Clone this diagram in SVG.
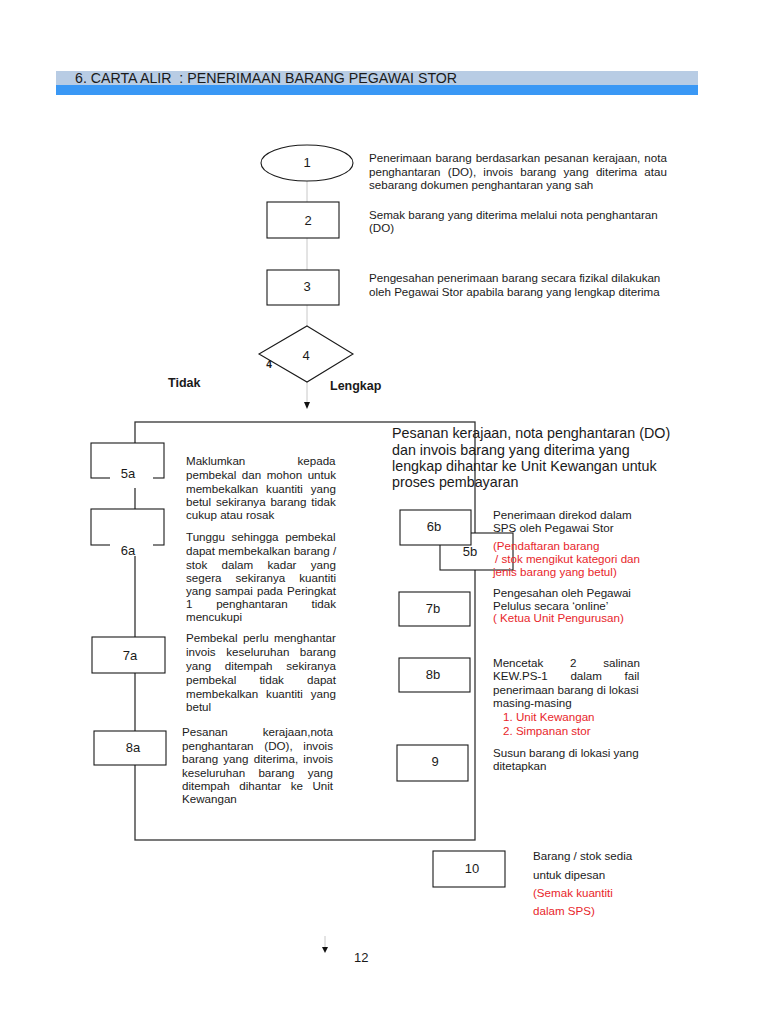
<svg xmlns="http://www.w3.org/2000/svg" width="768" height="1024" viewBox="0 0 768 1024">
<style>
text{font-family:"Liberation Sans",Arial,sans-serif;fill:#1a1a1a}
.t{font-size:11.6px}
.r{fill:#e8262b}
.lbl{font-size:13px;text-anchor:middle}
.b{font-weight:bold;font-size:12.5px}
.big{font-size:14.3px}
.box{fill:#fff;stroke:#1a1a1a;stroke-width:1.1}
.con{stroke:#c8c8c8;stroke-width:1;fill:none}
.frame{fill:none;stroke:#333;stroke-width:1.3}
</style>
<rect width="768" height="1024" fill="#fff"/>
<g id="header">
<rect x="56" y="71" width="642" height="14" fill="#b8cce4"/>
<rect x="56" y="85" width="642" height="10" fill="#3a98f5"/>
<text x="75" y="83" font-size="14.2">6. CARTA ALIR&#160; : PENERIMAAN BARANG PEGAWAI STOR</text>
</g>
<g id="connectors">
<line class="con" x1="307" y1="181" x2="307" y2="202"/>
<line class="con" x1="307" y1="238" x2="307" y2="270"/>
<line class="con" x1="307" y1="305" x2="307" y2="326"/>
<line class="con" x1="307" y1="382" x2="307" y2="403"/>
<polygon points="304,402 310,402 307,409" fill="#111"/>
<rect class="frame" x="135" y="422" width="340" height="418"/>
<line class="con" x1="325" y1="936" x2="325" y2="947"/>
<polygon points="322,947 328,947 325,953" fill="#111"/>
</g>
<g id="n1">
<ellipse cx="307" cy="163" rx="46" ry="18" class="box"/>
<text class="lbl" x="307" y="167">1</text>
<text class="t" x="369" y="162" style="word-spacing:0.8px">Penerimaan barang berdasarkan pesanan kerajaan, nota</text>
<text class="t" x="369" y="176" style="word-spacing:4px">penghantaran (DO), invois barang yang diterima atau</text>
<text class="t" x="369" y="189">sebarang dokumen penghantaran yang sah</text>
</g>
<g id="n2">
<rect class="box" x="267" y="202" width="72" height="36"/>
<text class="lbl" x="308" y="225">2</text>
<text class="t" x="369" y="219">Semak barang yang diterima melalui nota penghantaran</text>
<text class="t" x="369" y="232">(DO)</text>
</g>
<g id="n3">
<rect class="box" x="267" y="270" width="72" height="35"/>
<text class="lbl" x="307" y="291">3</text>
<text class="t" x="369" y="282">Pengesahan penerimaan barang secara fizikal dilakukan</text>
<text class="t" x="369" y="296">oleh Pegawai Stor apabila barang yang lengkap diterima</text>
</g>
<g id="n4">
<polygon class="box" points="307,326 353,354 307,382 259,354"/>
<text class="lbl" x="306" y="360">4</text>
<text x="269" y="368" font-size="10" font-weight="bold" text-anchor="middle">4</text>
<text class="b" x="168" y="387">Tidak</text>
<text class="b" x="330" y="390">Lengkap</text>
</g>
<g id="n5a">
<rect class="box" x="91" y="443" width="73" height="35"/>
<rect x="110" y="462" width="43" height="26" fill="#fff"/>
<text class="lbl" x="128" y="478">5a</text>
<text class="t" x="186" y="465" style="word-spacing:49px">Maklumkan kepada</text>
<text class="t" x="186" y="479" style="word-spacing:2.3px">pembekal dan mohon untuk</text>
<text class="t" x="186" y="493" style="word-spacing:4.7px">membekalkan kuantiti yang</text>
<text class="t" x="186" y="506" style="word-spacing:1.6px">betul sekiranya barang tidak</text>
<text class="t" x="186" y="519">cukup atau rosak</text>
</g>
<g id="n6a">
<rect class="box" x="91" y="509" width="73" height="36"/>
<rect x="110" y="530" width="43" height="26" fill="#fff"/>
<text class="lbl" x="128" y="555">6a</text>
<text class="t" x="186" y="541" style="word-spacing:3.4px">Tunggu sehingga pembekal</text>
<text class="t" x="186" y="555">dapat membekalkan barang /</text>
<text class="t" x="186" y="569" style="word-spacing:11.1px">stok dalam kadar yang</text>
<text class="t" x="186" y="582" style="word-spacing:10.9px">segera sekiranya kuantiti</text>
<text class="t" x="186" y="595" style="word-spacing:1px">yang sampai pada Peringkat</text>
<text class="t" x="186" y="608" style="word-spacing:20.5px">1 penghantaran tidak</text>
<text class="t" x="186" y="621">mencukupi</text>
</g>
<g id="n7a">
<rect class="box" x="92" y="637" width="73" height="36"/>
<text class="lbl" x="130" y="660">7a</text>
<text class="t" x="186" y="642" style="word-spacing:2.1px">Pembekal perlu menghantar</text>
<text class="t" x="186" y="656" style="word-spacing:7.3px">invois keseluruhan barang</text>
<text class="t" x="186" y="670" style="word-spacing:10.5px">yang ditempah sekiranya</text>
<text class="t" x="186" y="684" style="word-spacing:19.9px">pembekal tidak dapat</text>
<text class="t" x="186" y="698" style="word-spacing:4.7px">membekalkan kuantiti yang</text>
<text class="t" x="186" y="711">betul</text>
</g>
<g id="n8a">
<rect class="box" x="94" y="731" width="72" height="34"/>
<text class="lbl" x="133" y="752">8a</text>
<text class="t" x="182" y="736" style="word-spacing:31.7px">Pesanan kerajaan,nota</text>
<text class="t" x="182" y="750" style="word-spacing:7.5px">penghantaran (DO), invois</text>
<text class="t" x="182" y="763" style="word-spacing:2px">barang yang diterima, invois</text>
<text class="t" x="182" y="777" style="word-spacing:10px">keseluruhan barang yang</text>
<text class="t" x="182" y="790" style="word-spacing:6.3px">ditempah dihantar ke Unit</text>
<text class="t" x="182" y="803">Kewangan</text>
</g>
<g id="lengkap-note">
<text class="big" x="392" y="438">Pesanan kerajaan, nota penghantaran (DO)</text>
<text class="big" x="392" y="455">dan invois barang yang diterima yang</text>
<text class="big" x="392" y="471">lengkap dihantar ke Unit Kewangan untuk</text>
<text class="big" x="392" y="487">proses pembayaran</text>
</g>
<g id="n5b">
<rect class="box" x="440" y="533" width="73" height="37"/>
<text class="lbl" x="470" y="556">5b</text>
</g>
<g id="n6b">
<rect class="box" x="400" y="510" width="71" height="35"/>
<text class="lbl" x="434" y="531">6b</text>
<text class="t" x="493" y="519">Penerimaan direkod dalam</text>
<text class="t" x="493" y="532">SPS oleh Pegawai Stor</text>
<text class="t r" x="493" y="550">(Pendaftaran barang</text>
<text class="t r" x="495" y="563">/ stok mengikut kategori dan</text>
<text class="t r" x="493" y="576">jenis barang yang betul)</text>
</g>
<g id="n7b">
<rect class="box" x="399" y="592" width="71" height="34"/>
<text class="lbl" x="433" y="613">7b</text>
<text class="t" x="493" y="597">Pengesahan oleh Pegawai</text>
<text class="t" x="493" y="610">Pelulus secara ‘online’</text>
<text class="t r" x="493" y="622">( Ketua Unit Pengurusan)</text>
</g>
<g id="n8b">
<rect class="box" x="399" y="658" width="71" height="34"/>
<text class="lbl" x="433" y="679">8b</text>
<text class="t" x="493" y="667" style="word-spacing:23.5px">Mencetak 2 salinan</text>
<text class="t" x="493" y="680" style="word-spacing:19.4px">KEW.PS-1 dalam fail</text>
<text class="t" x="493" y="694">penerimaan barang di lokasi</text>
<text class="t" x="493" y="707">masing-masing</text>
<text class="t r" x="503" y="721">1. Unit Kewangan</text>
<text class="t r" x="503" y="735">2. Simpanan stor</text>
</g>
<g id="n9">
<rect class="box" x="397" y="745" width="71" height="36"/>
<text class="lbl" x="435" y="766">9</text>
<text class="t" x="493" y="757">Susun barang di lokasi yang</text>
<text class="t" x="493" y="770">ditetapkan</text>
</g>
<g id="n10">
<rect class="box" x="433" y="851" width="72" height="36"/>
<text class="lbl" x="472" y="873">10</text>
<text class="t" x="533" y="860">Barang / stok sedia</text>
<text class="t" x="533" y="879">untuk dipesan</text>
<text class="t r" x="533" y="897">(Semak kuantiti</text>
<text class="t r" x="533" y="915">dalam SPS)</text>
</g>
<g id="page">
<text x="354" y="962" font-size="13">12</text>
</g>
</svg>
